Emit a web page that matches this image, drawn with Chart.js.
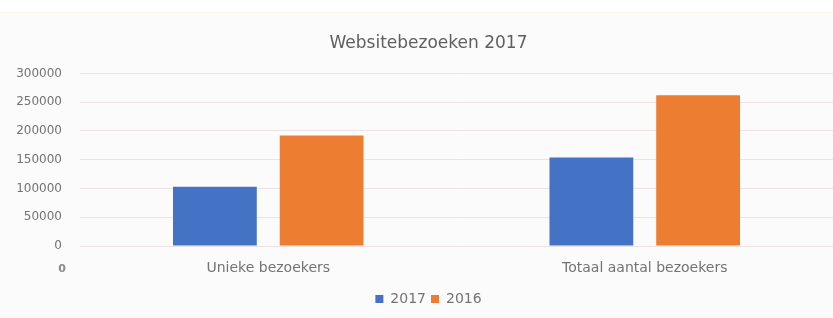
<!DOCTYPE html>
<html lang="nl">
<head>
    <meta charset="UTF-8">
    <title>Websitebezoeken 2017</title>
    <script src="https://cdn.jsdelivr.net/npm/chart.js"></script>
    <style>
        html, body { margin: 0; padding: 0; background: #ffffff; }
        #wrap {
            position: absolute; left: 0; top: 12px; width: 833px; height: 306px;
            background: #fbfbfb; border-top: 1px solid #fbf6e4; box-sizing: border-box;
        }
    </style>
</head>
<body>
    <div id="wrap"><canvas id="visitsChart"></canvas></div>

    <script>
        const categories = ['Unieke bezoekers', 'Totaal aantal bezoekers'];
        const visits2017 = [103000, 154000];
        const visits2016 = [192000, 262000];
        const yTicks = [0, 50000, 100000, 150000, 200000, 250000, 300000];

        const fontFamily = '"DejaVu Sans", sans-serif';
        const textColor = '#737373';

        // the odd little "0" under the axis in the original
        const strayZero = {
            id: 'strayZero',
            afterDraw(chart) {
                const ctx = chart.ctx;
                ctx.save();
                ctx.font = 'bold 11px ' + fontFamily;
                ctx.fillStyle = '#8a8a8a';
                ctx.textAlign = 'right';
                ctx.textBaseline = 'middle';
                ctx.fillText('0', chart.chartArea.left - 14, chart.chartArea.bottom + 23);
                ctx.restore();
            }
        };

        new Chart(document.getElementById('visitsChart'), {
            type: 'bar',
            data: {
                labels: categories,
                datasets: [
                    {
                        label: '2017',
                        data: visits2017,
                        backgroundColor: '#4472C4',
                        categoryPercentage: 0.567,
                        barPercentage: 0.785
                    },
                    {
                        label: '2016',
                        data: visits2016,
                        backgroundColor: '#ED7D31',
                        categoryPercentage: 0.567,
                        barPercentage: 0.785
                    }
                ]
            },
            options: {
                responsive: true,
                maintainAspectRatio: false,
                animation: false,
                // left padding shifts title + legend a bit right like the original
                layout: { padding: { left: 24, right: 0, top: 0, bottom: 2 } },
                scales: {
                    x: {
                        afterFit: (scale) => { scale.height = 41; },
                        grid: { display: false },
                        border: { display: false },
                        ticks: { color: textColor, font: { family: fontFamily, size: 14 }, padding: 6 }
                    },
                    y: {
                        min: 0,
                        max: 300000,
                        afterBuildTicks: (scale) => { scale.ticks = yTicks.map(v => ({ value: v })); },
                        afterFit: (scale) => { scale.width = 56; },
                        // labels stick out past the padded box, so don't clip them
                        afterUpdate: (scale) => { scale._computeLabelArea = () => undefined; },
                        grid: { color: '#ebe3e3', drawTicks: false },
                        border: { display: false },
                        ticks: {
                            color: textColor,
                            font: { family: fontFamily, size: 12 },
                            padding: 18,
                            callback: (value) => String(value)
                        }
                    }
                },
                plugins: {
                    title: {
                        display: true,
                        text: 'Websitebezoeken 2017',
                        color: '#5f5f5f',
                        font: { family: fontFamily, size: 17, weight: 'normal' },
                        padding: { top: 20, bottom: 20 }
                    },
                    legend: {
                        position: 'bottom',
                        labels: {
                            color: textColor,
                            font: { family: fontFamily, size: 14 },
                            boxWidth: 8,
                            boxHeight: 8,
                            padding: 5
                        }
                    },
                    tooltip: { enabled: false }
                }
            },
            plugins: [strayZero]
        });
    </script>
</body>
</html>
